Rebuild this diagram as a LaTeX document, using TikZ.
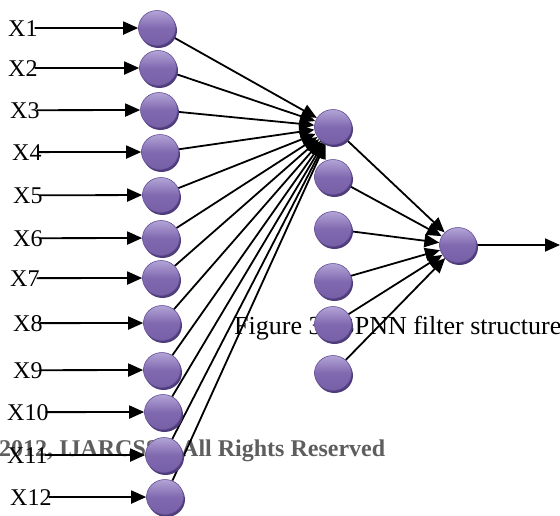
\documentclass[tikz,border=0pt]{standalone}
\usepackage{fontspec}
\setmainfont{Liberation Serif}
\usetikzlibrary{arrows.meta,shadows,shapes.geometric}
\definecolor{nodetop}{HTML}{B2A4D6}
\definecolor{nodemid}{HTML}{8169B0}
\definecolor{nodebot}{HTML}{7660A6}
\definecolor{noderim}{HTML}{67529A}
\definecolor{nodeshadow}{HTML}{4F3C7A}
\definecolor{copygray}{HTML}{5E5E5E}
\pgfdeclarelayer{paper}
\pgfdeclarelayer{txt}
\pgfdeclarelayer{lines}
\pgfsetlayers{paper,txt,lines,main}
\begin{document}
\begin{tikzpicture}[x=1pt,y=-1pt,
  neuron/.style={ellipse, minimum width=37pt, minimum height=35pt, inner sep=0pt,
    draw=noderim, line width=0.6pt, top color=nodetop, bottom color=nodebot, middle color=nodemid,
    drop shadow={shadow xshift=1.5pt, shadow yshift=-2.5pt, fill=nodeshadow, opacity=1}},
  arr/.style={-{Triangle[length=15pt,width=13pt]}, line width=1.8pt, black},
  lbl/.style={font=\fontsize{24}{28}\selectfont, inner sep=0pt, anchor=base west},
  note/.style={font=\fontsize{26}{30}\selectfont, inner sep=0pt, anchor=base west}]
\begin{pgfonlayer}{paper}
\fill[white] (0,0) rectangle (560,515);
\end{pgfonlayer}
\useasboundingbox (0,0) rectangle (560,515);

% texts (bottom layer)
\begin{pgfonlayer}{txt}
\node[note] (cap) at (234,334) {Figure 3: BPNN filter structure};
\node[note, font=\fontsize{24}{28}\selectfont\bfseries, text=copygray] (copy) at (-1,456) {2012, IJARCSSE All Rights Reserved};
\foreach \n/\lx/\cy in {1/8/28, 2/8/68, 3/10/110, 4/12/152, 5/13/195, 6/13/238,
                        7/10/278, 8/13/323, 9/13/370, 10/7/412, 11/7/455, 12/10/497}{
  \node[lbl] (l\n) at (\lx,\cy+8) {X\n};
}
\end{pgfonlayer}

% input neurons
\foreach \n/\cx/\cy in {1/157/28, 2/158/68, 3/159/110, 4/160/152, 5/161/195, 6/161/238,
                        7/161/278, 8/162/323, 9/162/370, 10/163/412, 11/164/455, 12/165/497}{
  \node[neuron] (i\n) at (\cx,\cy) {};
}
% hidden neurons
\foreach \n/\cy in {1/127, 2/177, 3/229, 4/281, 5/324, 6/373}{
  \node[neuron] (h\n) at (333,\cy) {};
}
% output neuron
\node[neuron] (o) at (458,245) {};
\coordinate (oend) at (560,245);

\begin{pgfonlayer}{lines}
\foreach \n in {1,...,12}{
  \draw[arr, shorten <=-3pt] (l\n.east) -- (i\n);
  \draw[arr] (i\n) -- (h1);
}
\foreach \n in {1,...,6}{
  \draw[arr] (h\n) -- (o);
}
\draw[arr] (o) -- (oend);
\end{pgfonlayer}
\end{tikzpicture}
\end{document}
